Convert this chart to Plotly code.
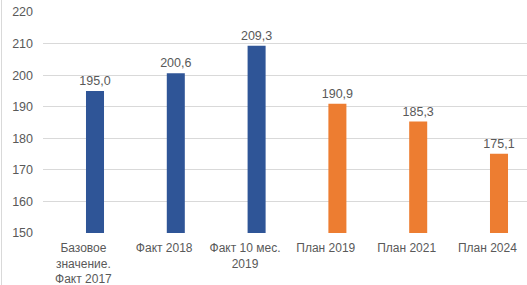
import plotly.graph_objects as go

categories = ["Базовое<br>значение.<br>Факт 2017", "Факт 2018", "Факт 10 мес.<br>2019",
              "План 2019", "План 2021", "План 2024"]
values = [195.0, 200.6, 209.3, 190.9, 185.3, 175.1]
bar_colors = ["#2F5597", "#2F5597", "#2F5597", "#ED7D31", "#ED7D31", "#ED7D31"]
y_ticks = [150, 160, 170, 180, 190, 200, 210, 220]
y_min, y_max = 150, 220

W, H = 527, 285
ml, mr, mt, mb = 43, 0, 12, 52
FONT = "Liberation Sans, Arial, sans-serif"
GREY = "#595959"

fig = go.Figure()
fig.add_trace(go.Bar(
    x=categories, y=[v - y_min for v in values], base=y_min,
    marker=dict(color=bar_colors, line=dict(width=0)),
    width=0.223, offset=0.032,
    text=[f"{v:.1f}".replace(".", ",") for v in values],
    textposition="outside", cliponaxis=False, constraintext="none",
    textfont=dict(family=FONT, size=12.5, color=GREY),
    hoverinfo="skip",
))

fig.update_layout(
    width=W, height=H, margin=dict(l=ml, r=mr, t=mt, b=mb, autoexpand=False),
    paper_bgcolor="white", plot_bgcolor="white", showlegend=False,
    font=dict(family=FONT, size=12.5, color=GREY),
    xaxis=dict(type="category", range=[-0.5, 5.49], showgrid=False, zeroline=False,
               showline=False, ticks="", automargin=False, ticklabelstandoff=6,
               tickfont=dict(size=12, color=GREY), fixedrange=True),
    yaxis=dict(range=[y_min, y_max], tickvals=y_ticks, ticktext=[str(t) for t in y_ticks],
               showgrid=True, gridcolor="#D9D9D9", gridwidth=1, zeroline=False,
               showline=False, ticks="", ticklabelstandoff=9, automargin=False,
               tickfont=dict(size=12.5, color=GREY), fixedrange=True),
    shapes=[dict(type="line", xref="paper", yref="paper",
                 x0=-(ml - 1.5) / (W - ml - mr), x1=-(ml - 1.5) / (W - ml - mr),
                 y0=-mb / (H - mt - mb), y1=1 + mt / (H - mt - mb),
                 line=dict(color="#D9D9D9", width=1))],
)

fig.write_html(
    "out.html",
    config={"displayModeBar": False, "responsive": False},
    post_script="document.body.style.margin='0';document.body.style.padding='0';"
                "document.documentElement.style.overflow='hidden';",
)
